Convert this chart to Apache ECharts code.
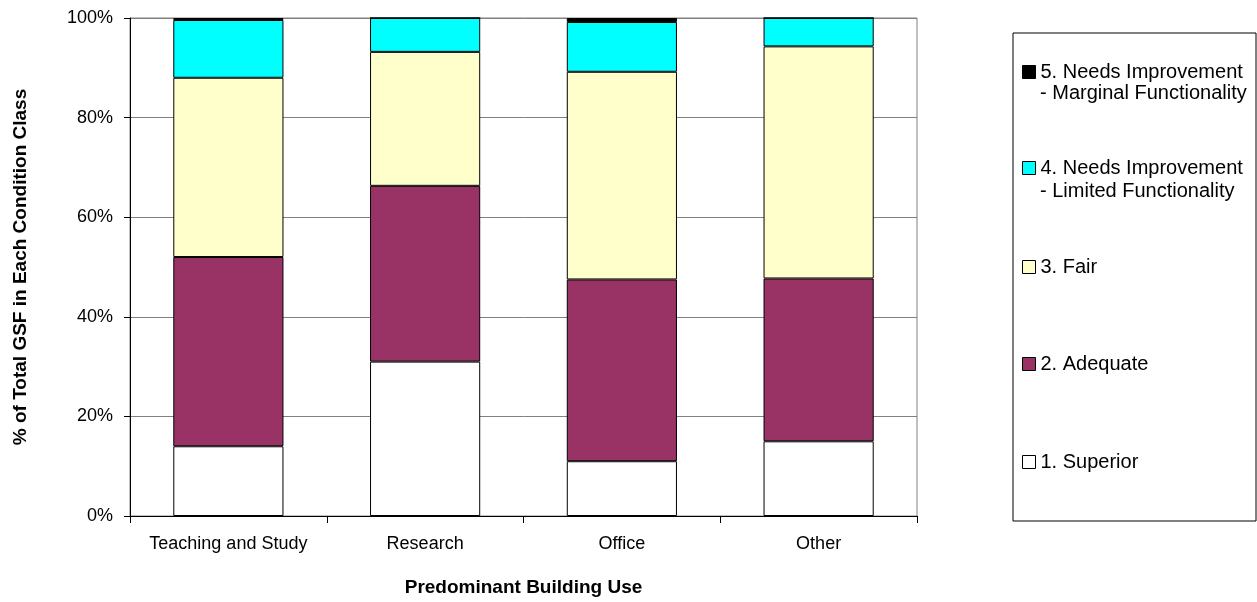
<!DOCTYPE html>
<html lang="en">
<head>
    <meta charset="UTF-8">
    <title>Condition by building use</title>
    <style>
        html, body { margin: 0; padding: 0; background: #fff; }
        #chart { width: 1257px; height: 602px; }
    </style>
</head>
<body>
<div id="chart"></div>
<script src="https://cdn.jsdelivr.net/npm/echarts@6/dist/echarts.min.js"></script>
<script>
    // data (percent of total GSF)
    const categories = ['Teaching and Study', 'Research', 'Office', 'Other'];
    const superior = [14, 31, 11, 15];
    const adequate = [38, 35.3, 36.5, 32.7];
    const fair = [36, 26.9, 41.7, 46.6];
    const limited = [11.6, 6.8, 10, 5.7];
    const marginal = [0.4, 0, 0.8, 0];
    const seriesNames = [
        '1. Superior',
        '2. Adequate',
        '3. Fair',
        '4. Needs Improvement - Limited Functionality',
        '5. Needs Improvement - Marginal Functionality'
    ];
    const seriesColors = ['#ffffff', '#993366', '#ffffcc', '#00ffff', '#000000'];
    const yTicks = [0, 20, 40, 60, 80, 100];

    const font = '"Liberation Sans", Arial, sans-serif';
    const values = [superior, adequate, fair, limited, marginal];

    const series = values.map(function (arr, i) {
        return {
            name: seriesNames[i],
            type: 'bar',
            stack: 'total',
            barWidth: '56%',
            data: arr,
            itemStyle: { color: seriesColors[i], borderColor: '#000', borderWidth: 1 }
        };
    });

    // legend: one component per entry so spacing can match the boxed legend
    const legendCenters = [72, 168, 267, 364, 462];
    const legends = [4, 3, 2, 1, 0].map(function (idx, k) {
        return {
            data: [seriesNames[idx]],
            left: 1022,
            top: legendCenters[k] - 11,
            orient: 'vertical',
            itemWidth: 13,
            itemHeight: 13,
            itemGap: 0,
            padding: 0,
            icon: 'rect',
            selectedMode: false,
            itemStyle: { borderColor: '#000', borderWidth: 1 },
            textStyle: { fontFamily: font, fontSize: 20, color: '#000', lineHeight: 22 },
            formatter: function (name) { return name.split(' - ')[0]; }
        };
    });

    let option = {
        animation: false,
        backgroundColor: '#fff',
        grid: {
            left: 130, right: 340, top: 18, bottom: 86,
            containLabel: false, outerBoundsMode: 'none',
            show: true, borderColor: '#808080', borderWidth: 1
        },
        legend: legends,
        xAxis: {
            type: 'category',
            data: categories,
            name: 'Predominant Building Use',
            nameLocation: 'middle',
            nameGap: 62,
            nameTextStyle: { fontFamily: font, fontSize: 19, fontWeight: 'bold', color: '#000' },
            axisLine: { lineStyle: { color: '#000', width: 1 } },
            axisTick: { show: true, interval: 0, length: 7, lineStyle: { color: '#000' } },
            axisLabel: { interval: 0, fontFamily: font, fontSize: 18, color: '#000', margin: 19 }
        },
        yAxis: {
            type: 'value',
            min: yTicks[0],
            max: yTicks[yTicks.length - 1],
            interval: 20,
            name: '% of Total GSF in Each Condition Class',
            nameLocation: 'middle',
            nameGap: 100,
            nameTextStyle: { fontFamily: font, fontSize: 19, fontWeight: 'bold', color: '#000' },
            axisLine: { show: true, lineStyle: { color: '#000', width: 1 } },
            axisTick: { show: true, length: 6, lineStyle: { color: '#000' } },
            axisLabel: { fontFamily: font, fontSize: 18, color: '#000', margin: 17, formatter: '{value}%' },
            splitLine: { lineStyle: { color: '#808080', width: 1 } }
        },
        graphic: [
            { type: 'rect', shape: { x: 1013, y: 33, width: 243, height: 488 }, style: { fill: 'none', stroke: '#000', lineWidth: 1 } },
            { type: 'text', x: 1040, y: 93, style: { text: '- Marginal Functionality', font: '20px ' + font, fill: '#000', verticalAlign: 'middle' } },
            { type: 'text', x: 1040, y: 191, style: { text: '- Limited Functionality', font: '20px ' + font, fill: '#000', verticalAlign: 'middle' } }
        ],
        series: series
    };

    let myChart = echarts.init(document.getElementById('chart'));
    myChart.setOption(option);
</script>
</body>
</html>
